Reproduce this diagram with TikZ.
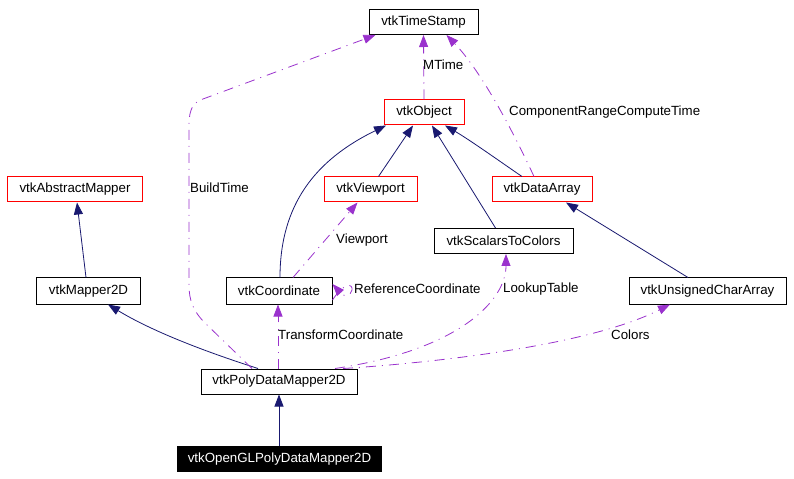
\documentclass[tikz,border=0pt]{standalone}
\usepackage{fontspec}
\setmainfont{Liberation Sans}
\usetikzlibrary{arrows.meta}
\definecolor{inhcol}{RGB}{25,25,112}
\definecolor{usecol}{RGB}{154,50,205}
\definecolor{boxred}{RGB}{255,0,0}
\begin{document}
\begin{tikzpicture}[x=1bp,y=-1bp,
  every node/.style={font=\fontsize{13.3bp}{16bp}\selectfont},
  cls/.style={draw=black,line width=1bp,inner sep=0pt,minimum height=25bp,fill=white},
  redcls/.style={cls,draw=boxred},
  curcls/.style={cls,fill=black,text=white},
  inh/.style={draw=inhcol,line width=0.8bp,-{Triangle[length=12bp,width=9bp]},fill=none},
  use/.style={draw=usecol,line width=0.8bp,dash pattern=on 10bp off 6bp on 1bp off 6bp,-{Triangle[length=12bp,width=9bp,fill=usecol]},fill=none},
  lbl/.style={anchor=west,inner sep=0pt,text=black}]
\useasboundingbox[fill=white] (0,0) rectangle (794,479);
% nodes
\node[cls,minimum width=109bp] (ts) at (423.5,22) {vtkTimeStamp};
\node[redcls,minimum width=80bp] (obj) at (424,112.5) {vtkObject};
\node[redcls,minimum width=134bp] (am) at (75,189.5) {vtkAbstractMapper};
\node[redcls,minimum width=93bp] (vp) at (370.5,189.5) {vtkViewport};
\node[redcls,minimum width=100bp] (da) at (542,189.5) {vtkDataArray};
\node[cls,minimum width=139bp] (stc) at (503.5,241) {vtkScalarsToColors};
\node[cls,minimum width=103bp,minimum height=26bp] (m2d) at (88.5,291) {vtkMapper2D};
\node[cls,minimum width=106bp,minimum height=26bp] (coord) at (279,291) {vtkCoordinate};
\node[cls,minimum width=157bp,minimum height=26bp] (uca) at (707.5,291) {vtkUnsignedCharArray};
\node[cls,minimum width=156bp] (pdm) at (279,381.5) {vtkPolyDataMapper2D};
\node[curcls,minimum width=204bp] (ogl) at (279.5,459) {vtkOpenGLPolyDataMapper2D};
% inheritance
\draw[inh] ([xshift=-2.5bp]m2d.north) -- ([xshift=2bp]am.south);
\draw[inh] ([xshift=-21bp]pdm.north) .. controls (200,350) and (150,330) .. ([xshift=19.5bp]m2d.south);
\draw[inh] ([xshift=-0.5bp]ogl.north) -- (pdm.south);
\draw[inh] ([xshift=1bp]coord.north) .. controls (280,205) and (315,160) .. ([xshift=-38bp]obj.south);
\draw[inh] ([xshift=8bp]vp.north) -- ([xshift=-11bp]obj.south);
\draw[inh] ([xshift=-8bp]stc.north) -- ([xshift=8bp]obj.south);
\draw[inh] ([xshift=-20bp]da.north) .. controls (505,165) and (470,140) .. ([xshift=21bp]obj.south);
\draw[inh] ([xshift=-19.5bp]uca.north) -- ([xshift=24bp]da.south);
% usage
\draw[use] (obj.north) -- (ts.south);
\node[lbl] (lmt) at (423,65) {MTime};
\draw[use] ([xshift=-8bp]da.north) .. controls (510,125) and (480,70) .. ([xshift=23bp]ts.south);
\node[lbl] (lcr) at (509,112) {ComponentRangeComputeTime};
\draw[use] ([xshift=-27bp]pdm.north) -- (205,323) .. controls (193,311) and (189,300) .. (189,285) -- (189,125) .. controls (189,108) and (194,102) .. (203,99) -- ([xshift=-48bp]ts.south);
\node[lbl] (lbt) at (190,188) {BuildTime};
\draw[use] ([xshift=14bp]coord.north) -- ([xshift=-13bp]vp.south);
\node[lbl] (lvp) at (336,240) {Viewport};
\draw[use] ([yshift=-9bp]coord.east) .. controls (345,281) and (353,284) .. (352,290) .. controls (351,295) and (345,298) .. ([yshift=7bp]coord.east);
\node[lbl] (lrc) at (354,289) {ReferenceCoordinate};
\draw[use] ([xshift=-1bp]pdm.north) -- ([xshift=-1bp]coord.south);
\node[lbl] (ltc) at (278,335) {TransformCoordinate};
\draw[use] ([xshift=56bp]pdm.north) .. controls (460,350) and (506,300) .. ([xshift=2.5bp]stc.south);
\node[lbl] (llt) at (503,289) {LookupTable};
\draw[use] ([xshift=64bp]pdm.north) .. controls (400,365) and (580,350) .. ([xshift=-37.5bp]uca.south);
\node[lbl] (lco) at (611,335) {Colors};
\end{tikzpicture}
\end{document}
